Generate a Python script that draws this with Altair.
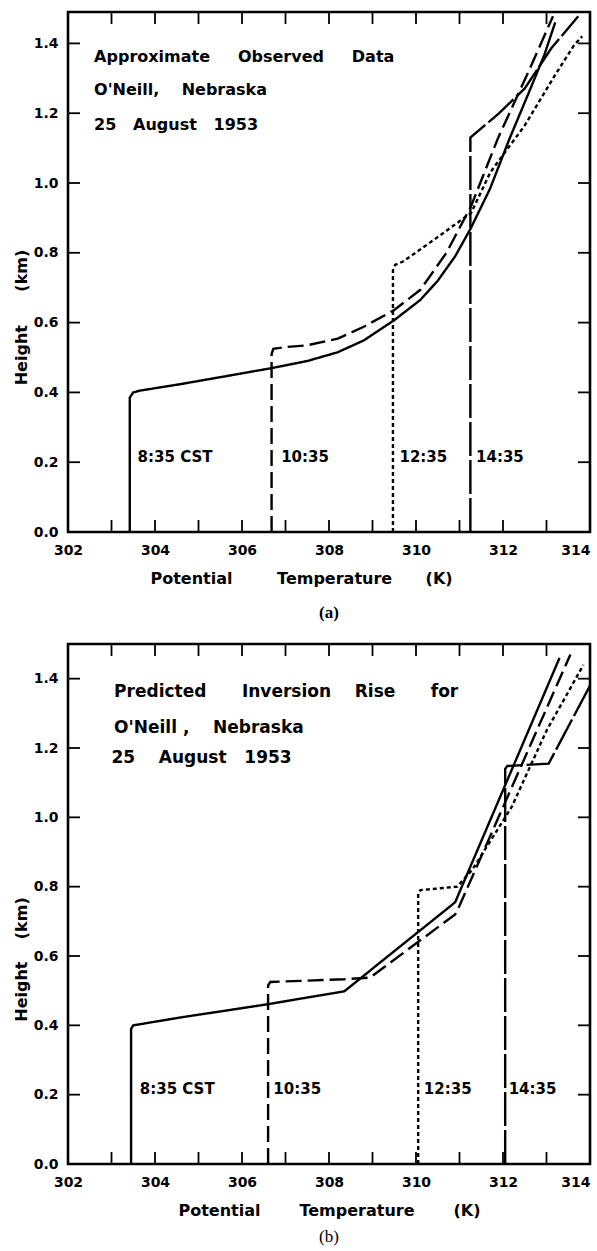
import altair as alt
import pandas as pd

# ---------------- data ----------------
series_names = ["8:35 CST", "10:35", "12:35", "14:35"]

# Panel (a): approximate observed data
a_835_T = [303.42, 303.42, 303.5, 303.65, 304.6, 305.7, 306.7, 307.5, 308.2, 308.8, 309.5, 310.1, 310.5, 310.9, 311.25, 311.7, 312.15, 312.6, 312.95, 313.2]
a_835_h = [0.0, 0.385, 0.4, 0.405, 0.424, 0.448, 0.47, 0.49, 0.515, 0.549, 0.607, 0.665, 0.72, 0.79, 0.868, 0.983, 1.127, 1.261, 1.367, 1.46]
a_1035_T = [306.68, 306.68, 306.72, 307.0, 307.5, 308.2, 308.8, 309.5, 310.1, 310.7, 311.27, 311.88, 312.59, 313.15]
a_1035_h = [0.0, 0.51, 0.525, 0.53, 0.535, 0.554, 0.588, 0.636, 0.694, 0.8, 0.935, 1.127, 1.32, 1.478]
a_1235_T = [309.47, 309.47, 309.52, 309.7, 310.5, 311.27, 311.71, 312.5, 313.2, 313.64, 313.82]
a_1235_h = [0.0, 0.75, 0.765, 0.775, 0.845, 0.915, 1.031, 1.165, 1.31, 1.396, 1.42]
a_1435_T = [311.25, 311.25, 311.9, 312.5, 313.11, 313.73]
a_1435_h = [0.0, 1.13, 1.199, 1.271, 1.386, 1.478]

# Panel (b): predicted inversion rise
b_835_T = [303.45, 303.45, 303.5, 304.6, 306.6, 307.3, 308.35, 310.9, 313.3]
b_835_h = [0.0, 0.39, 0.4, 0.423, 0.461, 0.476, 0.498, 0.755, 1.46]
b_1035_T = [306.6, 306.6, 306.65, 308.35, 308.95, 310.9, 311.0, 313.55]
b_1035_h = [0.0, 0.515, 0.525, 0.533, 0.538, 0.72, 0.745, 1.47]
b_1235_T = [310.05, 310.05, 310.1, 310.95, 311.3, 312.2, 313.0, 313.85]
b_1235_h = [0.0, 0.78, 0.79, 0.80, 0.85, 1.03, 1.25, 1.44]
b_1435_T = [312.05, 312.05, 312.1, 313.05, 314.0]
b_1435_h = [0.0, 1.14, 1.148, 1.155, 1.38]

# time labels near the bottom of each profile
a_label_T = [303.6, 306.9, 309.62, 311.38]
b_label_T = [303.65, 306.72, 310.18, 312.13]
label_h = [0.215, 0.215, 0.215, 0.215]

# annotation text blocks
NB = "\u00a0"
a_notes = ["Approximate" + NB * 5 + "Observed" + NB * 5 + "Data",
           "O'Neill," + NB * 4 + "Nebraska",
           "25" + NB * 3 + "August" + NB * 3 + "1953"]
a_notes_T = [302.6, 302.6, 302.6]
a_notes_h = [1.361, 1.266, 1.166]
b_notes = ["Predicted" + NB * 6 + "Inversion" + NB * 4 + "Rise" + NB * 6 + "for",
           "O'Neill" + NB + "," + NB * 4 + "Nebraska",
           "25" + NB * 4 + "August" + NB * 3 + "1953"]
b_notes_T = [303.06, 303.06, 303.0]
b_notes_h = [1.362, 1.257, 1.17]

a_xtitle = "Potential" + NB * 8 + "Temperature" + NB * 6 + "(K)"
b_xtitle = "Potential" + NB * 7 + "Temperature" + NB * 7 + "(K)"
a_ytitle = "Height" + NB * 6 + "(km)"
b_ytitle = "Height" + NB * 4 + "(km)"

x_label_values = [302, 304, 306, 308, 310, 312, 314]
x_minor_ticks = [303, 304, 305, 306, 307, 308, 309, 310, 311, 312, 313]
y_tick_values = [0.2, 0.4, 0.6, 0.8, 1.0, 1.2, 1.4]

FONT = "DejaVu Sans"
PW, PH = 522, 520
XMIN, XMAX = 302, 314
dash_range = [[1, 0], [16, 6], [4, 3], [34, 4]]


def lines_df(pairs):
    rows = []
    for name, (ts, hs) in zip(series_names, pairs):
        for i, (t, h) in enumerate(zip(ts, hs)):
            rows.append({"T": t, "h": h, "series": name, "order": i})
    return pd.DataFrame(rows)


def panel(pairs, ymax, label_T, notes, notes_T, notes_h, note_size, xtitle, title_x, ytitle, title_y,
          caption, cap_weight, cap_offset):
    xs = alt.Scale(domain=[XMIN, XMAX], nice=False, zero=False)
    ys = alt.Scale(domain=[0, ymax], nice=False, zero=True)
    xkw = dict(values=x_label_values, format="d", title=xtitle,
               labelPadding=11, titlePadding=13, labelFlush=False,
               labelAlign={"condition": {"test": "datum.value >= 314", "value": "right"}, "value": "center"})
    if title_x is not None:
        xkw.update(titleX=title_x, titleAlign="left")
    xax = alt.Axis(**xkw)
    yax = alt.Axis(values=[0.0] + y_tick_values, format=".1f", title=ytitle,
                   labelPadding=10, titlePadding=4, titleY=title_y)

    df = lines_df(pairs)
    lines = alt.Chart(df).mark_line(color="black", strokeWidth=2.4, clip=True).encode(
        x=alt.X("T:Q", scale=xs, axis=xax),
        y=alt.Y("h:Q", scale=ys, axis=yax),
        detail="series:N",
        order="order:Q",
        strokeDash=alt.StrokeDash("series:N", scale=alt.Scale(domain=series_names, range=dash_range), legend=None),
    )

    tx = 12.0 / PW * (XMAX - XMIN)
    ty = 12.0 / PH * ymax
    xt = pd.DataFrame({"T": x_minor_ticks})
    bottom_ticks = alt.Chart(xt).mark_rule(color="black", strokeWidth=1.8).encode(
        x=alt.X("T:Q", scale=xs), y=alt.datum(0.0), y2=alt.datum(ty))
    top_ticks = alt.Chart(xt).mark_rule(color="black", strokeWidth=1.8).encode(
        x=alt.X("T:Q", scale=xs), y=alt.datum(ymax), y2=alt.datum(ymax - ty))
    yt = pd.DataFrame({"h": y_tick_values})
    left_ticks = alt.Chart(yt).mark_rule(color="black", strokeWidth=1.8).encode(
        y=alt.Y("h:Q", scale=ys), x=alt.datum(XMIN), x2=alt.datum(XMIN + tx))
    right_ticks = alt.Chart(yt).mark_rule(color="black", strokeWidth=1.8).encode(
        y=alt.Y("h:Q", scale=ys), x=alt.datum(XMAX), x2=alt.datum(XMAX - tx))

    lab = pd.DataFrame({"T": label_T, "h": label_h, "text": series_names})
    labels = alt.Chart(lab).mark_text(align="left", baseline="middle", font=FONT, fontSize=15,
                                      fontWeight="bold", color="black").encode(
        x=alt.X("T:Q", scale=xs), y=alt.Y("h:Q", scale=ys), text="text:N")

    nt = pd.DataFrame({"T": notes_T, "h": notes_h, "text": notes})
    note_marks = alt.Chart(nt).mark_text(align="left", baseline="middle", font=FONT, fontSize=note_size,
                                         fontWeight="bold", color="black").encode(
        x=alt.X("T:Q", scale=xs), y=alt.Y("h:Q", scale=ys), text="text:N")

    return alt.layer(bottom_ticks, top_ticks, left_ticks, right_ticks, lines, labels, note_marks).properties(
        width=PW, height=PH,
        title=alt.TitleParams(caption, orient="bottom", font="Liberation Serif", fontSize=17,
                              fontWeight=cap_weight, offset=cap_offset, anchor="middle", color="black"),
    )


pa = panel([(a_835_T, a_835_h), (a_1035_T, a_1035_h), (a_1235_T, a_1235_h), (a_1435_T, a_1435_h)],
           1.49, a_label_T, a_notes, a_notes_T, a_notes_h, 16, a_xtitle, 82, a_ytitle, 305,
           "(a)", "bold", 19)
pb = panel([(b_835_T, b_835_h), (b_1035_T, b_1035_h), (b_1235_T, b_1235_h), (b_1435_T, b_1435_h)],
           1.5, b_label_T, b_notes, b_notes_T, b_notes_h, 17, b_xtitle, None, b_ytitle, 315,
           "(b)", "normal", 11)

chart = alt.vconcat(pa, pb, spacing=18).properties(
    padding={"left": 11, "top": 9, "right": 0, "bottom": 0},
    background="white",
).configure_view(stroke="black", strokeWidth=2.6).configure_axis(
    grid=False, domain=False, ticks=False, labelFont=FONT, labelFontSize=14, labelColor="black",
    labelFontWeight="bold",
    titleFont=FONT, titleFontSize=16, titleFontWeight="bold", titleColor="black",
)

chart.save("out.html", embed_options={"renderer": "svg", "actions": False})
